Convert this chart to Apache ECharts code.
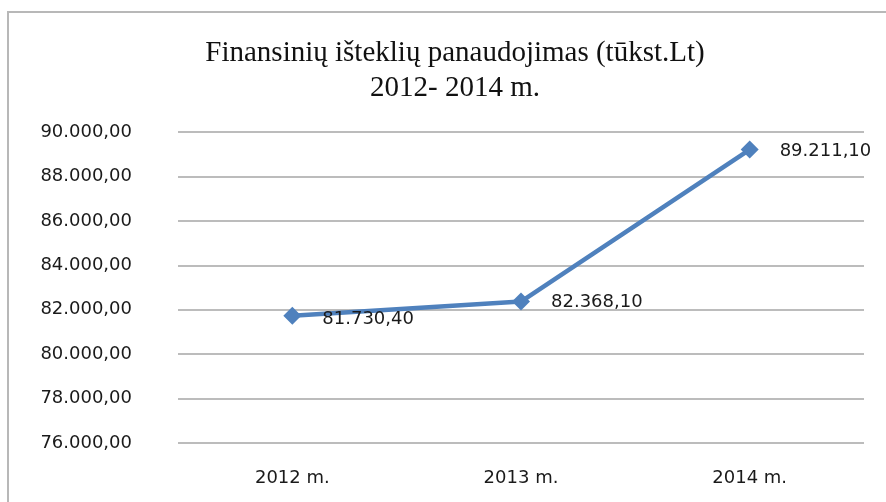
<!DOCTYPE html>
<html>
<head>
<meta charset="utf-8">
<script src="https://cdn.jsdelivr.net/npm/echarts@6/dist/echarts.min.js"></script>
<style>
  html, body { margin: 0; padding: 0; background: #fff; }
  #main { width: 886px; height: 502px; }
</style>
</head>
<body>
<div id="main"></div>
<script>
var years = ['2012 m.', '2013 m.', '2014 m.'];
var values = [81730.40, 82368.10, 89211.10];

function ltNum(v) {
    var parts = v.toFixed(2).split('.');
    var whole = parts[0].replace(/\B(?=(\d{3})+(?!\d))/g, '.');
    return whole + ',' + parts[1];
}

var myChart = echarts.init(document.getElementById('main'));

var option = {
    animation: false,
    backgroundColor: '#fff',
    title: {
        text: 'Finansinių išteklių panaudojimas (tūkst.Lt)\n2012- 2014 m.',
        left: 450,
        top: 31,
        textAlign: 'center',
        textStyle: {
            fontFamily: 'Liberation Serif',
            fontWeight: 'normal',
            fontSize: 29,
            lineHeight: 35,
            color: '#111'
        }
    },
    graphic: [{
        type: 'rect',
        shape: { x: 8, y: 12, width: 900, height: 600 },
        style: { fill: 'none', stroke: '#b8b8b8', lineWidth: 2 },
        silent: true,
        z: -1
    }],
    grid: {
        left: 178,
        right: 22,
        top: 132,
        bottom: 59
    },
    xAxis: {
        type: 'category',
        data: years,
        axisLine: { show: false },
        axisTick: { show: false },
        axisLabel: {
            margin: 26,
            fontFamily: 'DejaVu Sans',
            fontSize: 18,
            color: '#1a1a1a'
        }
    },
    yAxis: {
        type: 'value',
        min: 76000,
        max: 90000,
        interval: 2000,
        axisLine: { show: false },
        axisTick: { show: false },
        splitLine: { lineStyle: { color: '#a6a6a6', width: 1.5 } },
        axisLabel: {
            margin: 46,
            fontFamily: 'DejaVu Sans',
            fontSize: 18,
            color: '#1a1a1a',
            formatter: function (v) { return ltNum(v); }
        }
    },
    series: [{
        type: 'line',
        data: values,
        symbol: 'diamond',
        symbolSize: 18,
        lineStyle: { color: '#4F81BD', width: 4.5 },
        itemStyle: { color: '#4F81BD' },
        label: {
            show: true,
            position: 'right',
            distance: 21,
            fontFamily: 'DejaVu Sans',
            fontSize: 18,
            color: '#1a1a1a',
            formatter: function (p) { return ltNum(p.value); }
        },
        labelLayout: function (p) {
            var dy = [4, 1, 2][p.dataIndex];
            return { dy: dy };
        }
    }]
};

myChart.setOption(option);
</script>
</body>
</html>
